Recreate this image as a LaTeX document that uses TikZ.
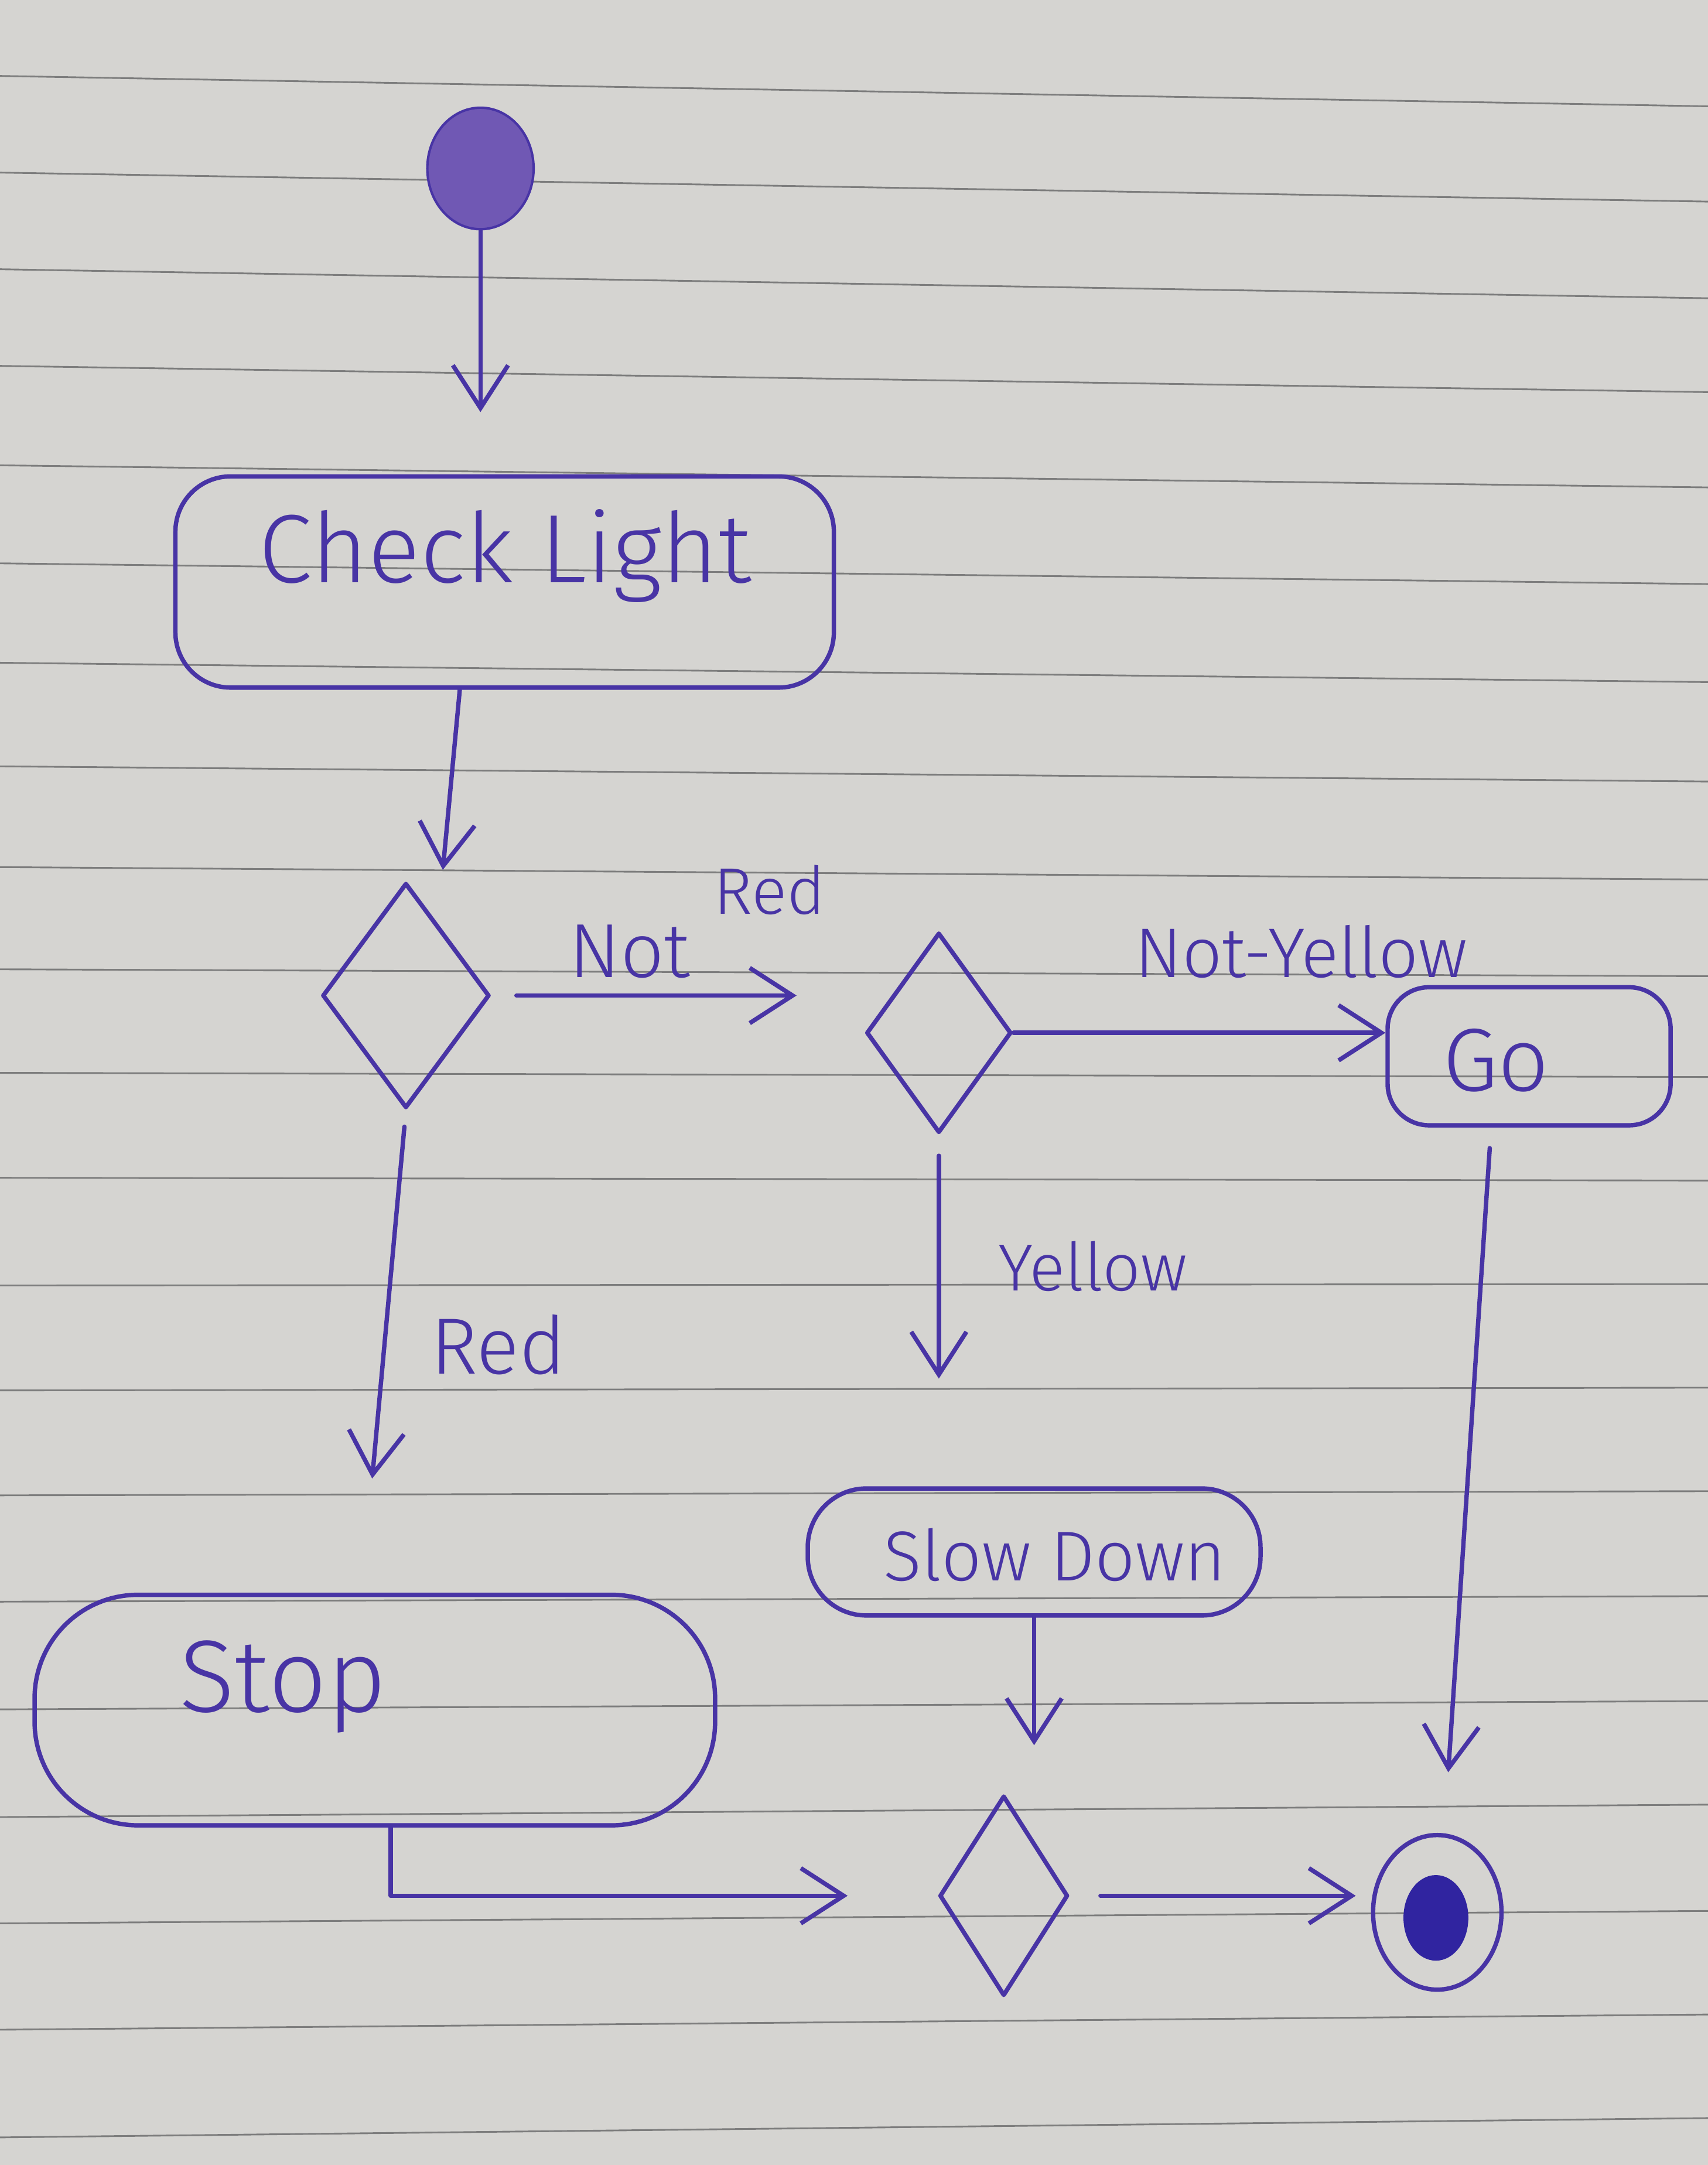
\documentclass[tikz,border=0pt]{standalone}
\usepackage{fontspec}
\setmainfont{Fira Sans Light}
\usetikzlibrary{arrows.meta,shapes.geometric,calc}
\definecolor{paper}{RGB}{213,212,209}
\definecolor{ink}{RGB}{72,52,165}
\definecolor{rulegray}{RGB}{125,125,125}
\definecolor{startfill}{RGB}{112,88,180}
\definecolor{endfill}{RGB}{48,36,160}
\newcommand{\hw}[2]{\resizebox{#1}{!}{#2}}
\begin{document}
\begin{tikzpicture}[x={(0.02cm,0)}, y={(0,-0.02cm)},
  inkline/.style={draw=ink, line width=1.8pt, line cap=round, line join=round},
  flow/.style={inkline, -{Straight Barb[length=0.62cm,width=0.8cm]}},
  action/.style={inkline, rectangle, inner sep=0pt},
  decision/.style={inkline, diamond, inner sep=0pt},
  lbl/.style={text=ink, inner sep=0pt, anchor=base},
  ruled/.style={draw=rulegray, line width=0.7pt}]

% paper
\fill[paper] (0,0) rectangle (1237,1568);
\useasboundingbox (0,0) rectangle (1237,1568);
\foreach \l/\r in {55/77,125/146,195/216,265/284,337/353,408/423,480/494,555/566,628/637,702/707,777/780,853/855,931/930,1007/1005,1083/1080,1160/1156,1238/1232,1316/1307,1393/1384,1470/1459,1548/1534}
  \draw[ruled] (0,\l) -- (1237,\r);

% nodes
\node[ellipse, fill=startfill, draw=ink, line width=1pt, minimum width=1.54cm, minimum height=1.76cm, inner sep=0pt] (start) at (348,122) {};
\node[action, rounded corners=0.8cm, minimum width=9.54cm, minimum height=3.06cm] (check) at (365.5,421.5) {};
\node[decision, minimum width=2.42cm, minimum height=3.26cm] (d1) at (294,721) {};
\node[decision, minimum width=2.1cm, minimum height=2.9cm] (d2) at (680,748) {};
\node[action, rounded corners=0.6cm, minimum width=4.1cm, minimum height=2cm] (go) at (1107.5,765) {};
\node[action, rounded corners=0.85cm, minimum width=6.56cm, minimum height=1.84cm] (slow) at (749,1124) {};
\node[action, rounded corners=1.5cm, minimum width=9.86cm, minimum height=3.34cm] (stop) at (271.5,1238.5) {};
\node[decision, minimum width=1.86cm, minimum height=2.9cm] (d3) at (727,1373) {};
\node[ellipse, inkline, minimum width=1.86cm, minimum height=2.24cm, inner sep=0pt] (end) at (1041,1385) {};
\node[ellipse, fill=endfill, minimum width=0.94cm, minimum height=1.24cm, inner sep=0pt] (endin) at (1040,1389) {};

% texts
\node[lbl] (tcheck) at (366,422) {\hw{7.14cm}{Check Light}};
\node[lbl] (tstop) at (205,1240) {\hw{3cm}{Stop}};
\node[lbl] (tslow) at (764,1145) {\hw{4.96cm}{Slow Down}};
\node[lbl] (tgo) at (1083.5,790) {\hw{1.54cm}{Go}};
\node[lbl] (tnot) at (456,708) {\hw{1.76cm}{Not}};
\node[lbl] (tred1) at (557.5,662) {\hw{1.62cm}{Red}};
\node[lbl] (tnoty) at (942.5,708) {\hw{4.82cm}{Not-Yellow}};
\node[lbl] (tyel) at (791.5,935) {\hw{2.74cm}{Yellow}};
\node[lbl] (tred2) at (361,995) {\hw{1.96cm}{Red}};

% connectors
\draw[flow, shorten >=0.9cm] (start.south) -- (start.south |- check.north);
\draw[flow, shorten >=0.16cm] ([xshift=-0.65cm]check.south) -- ([xshift=0.52cm]d1.north);
\draw[flow, shorten <=0.36cm, shorten >=0.98cm] (d1.east) -- (d1.east -| d2.west);
\draw[flow] (d2.east) -- (d2.east -| go.west);
\draw[flow, shorten <=0.3cm, shorten >=1.56cm] (d2.south) -- (d2.south |- slow.north);
\draw[flow, shorten <=0.24cm, shorten >=1.66cm] (d1.south) -- ([xshift=-0.19cm]stop.north);
\draw[flow, shorten >=0.7cm] (slow.south) -- (slow.south |- d3.north);
\draw[flow, shorten >=1.3cm] ([xshift=0.23cm]stop.south) |- (d3.west);
\draw[flow, shorten <=0.44cm, shorten >=0.22cm] (d3.east) -- (d3.east -| end.west);
\draw[flow, shorten <=0.3cm, shorten >=0.88cm] ([xshift=-0.55cm]go.south) -- ([xshift=0.1cm]end.north);
\end{tikzpicture}
\end{document}
